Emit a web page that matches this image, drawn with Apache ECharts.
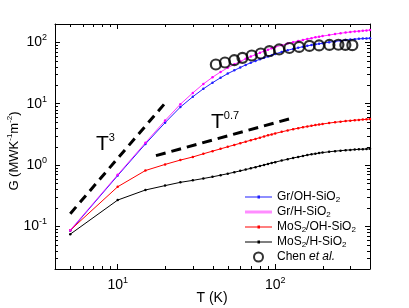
<!DOCTYPE html>
<html><head><meta charset="utf-8">
<script src="https://cdn.jsdelivr.net/npm/echarts@6/dist/echarts.min.js"></script>
<style>html,body{margin:0;padding:0;background:#fff}#c{width:409px;height:308px}</style>
</head><body><div id="c"></div>
<script>
// ---- data ----
const temps = [5,10,15,20,25,30,35,40,45,50,55,60,65,70,75,80,85,90,95,100,110,120,130,140,150,160,170,180,190,200,220,240,260,280,300,320,340,360,380,400];
const grOH = [0.084,0.67,2.2,4.9,8.8,13,17.5,22,26.5,31,35,39,43,46.5,50,53,56,59,62,65,70,74.5,78.5,82,85,88,90.5,93,95,97,101,104,107,109.5,111.5,113,114.5,115.5,116.5,117.5];
const grH = [0.086,0.69,2.3,5.3,9.8,15,21,27,33,38.5,44,49,54,59,63,68,72,76,80,84,90,96,101,106,110,114,117.5,121,124,127,132,137,141,145,148,151,153,155,157,159];
const mosOH = [0.086,0.44,0.81,1.02,1.2,1.35,1.52,1.68,1.83,1.98,2.12,2.26,2.4,2.53,2.66,2.79,2.92,3.04,3.15,3.27,3.47,3.66,3.83,3.98,4.12,4.25,4.36,4.47,4.57,4.66,4.83,4.97,5.09,5.2,5.29,5.37,5.44,5.5,5.55,5.6];
const mosH = [0.074,0.267,0.39,0.46,0.52,0.56,0.6,0.64,0.68,0.72,0.76,0.8,0.84,0.88,0.92,0.96,1.0,1.04,1.08,1.11,1.18,1.24,1.3,1.35,1.4,1.45,1.49,1.53,1.56,1.59,1.64,1.68,1.71,1.74,1.76,1.78,1.8,1.81,1.82,1.83];
const chenT = [42,48,55,62,71,81,92,106,123,142,165,190,221,252,279,309];
const chenG = [43.6,47,51.3,56.1,61.2,66,72,76.8,81.2,84.4,87.7,89.3,91,91.6,91,90.3];
const t3LineT = [5,20.5];
const t3LineG = [0.16,11];
const t07LineT = [17.5,131];
const t07LineG = [1.42,5.9];
const seriesNames = ['Gr/OH-SiO2','Gr/H-SiO2','MoS2/OH-SiO2','MoS2/H-SiO2','Chen et al.'];
const xRange = [4,400];
const yRange = [0.02,200];

// ---- helpers ----
const FF = 'Liberation Sans, Arial, sans-serif';
const zip = (a,b)=>a.map((v,i)=>[v,b[i]]);
function powLabel(v){
  const l = Math.log10(v), e = Math.round(l);
  if (Math.abs(l-e) > 1e-6) return '';
  return '{b|10}{p|' + e + '}';
}
const tickRich = {
  b:{fontSize:14, fontFamily:FF, color:'#000', lineHeight:18},
  p:{fontSize:9, fontFamily:FF, color:'#000', lineHeight:12, verticalAlign:'top'}
};
function minorTicks(lo, hi){
  const out=[];
  for(let d=Math.floor(Math.log10(lo)); d<=Math.ceil(Math.log10(hi)); d++){
    for(let k=2;k<=9;k++){const v=k*Math.pow(10,d); if(v>lo*1.0001 && v<hi*0.9999) out.push(v);}
  }
  return out;
}
const legendFmt = {
  'Gr/OH-SiO2':'{t|Gr/OH-SiO}{s|2}',
  'Gr/H-SiO2':'{t|Gr/H-SiO}{s|2}',
  'MoS2/OH-SiO2':'{t|MoS}{s|2}{t|/OH-SiO}{s|2}',
  'MoS2/H-SiO2':'{t|MoS}{s|2}{t|/H-SiO}{s|2}',
  'Chen et al.':'{t|Chen }{i|et al.}'
};
const colors = ['#1f1fff','#ff00ff','#ff0000','#000000'];
const curveData = [grOH, grH, mosOH, mosH];
const lineIcon = 'path://M0,4h27v1h-27z M12.5,3h2.5v3h-2.5z';
const bandIcon = 'path://M0,3h27v3h-27z';

const axisCommon = {
  type:'log', logBase:10,
  axisLine:{show:true, lineStyle:{color:'#000', width:1}},
  axisTick:{show:true, inside:true, length:5, lineStyle:{color:'#000'}},
  splitLine:{show:false}
};

const series = [];
curveData.forEach((d,i)=>{
  series.push({
    name: seriesNames[i], type:'line', data: zip(temps,d),
    symbol:'circle', symbolSize:2.5, showSymbol:true,
    lineStyle:{color:colors[i], width:1, opacity: i===1?0.8:1},
    itemStyle:{color:colors[i]}, z: i===1?4:3, animation:false
  });
});
series.push({
  name: seriesNames[4], type:'scatter', data: zip(chenT, chenG),
  symbol:'circle', symbolSize:10,
  itemStyle:{color:'rgba(0,0,0,0)', borderColor:'#000', borderWidth:2.2}, z:6
});
series.push({name:'T3', type:'line', data: zip(t3LineT,t3LineG), showSymbol:false, symbol:'none',
  lineStyle:{color:'#000', width:3, type:[9,6]}, z:5});
series.push({name:'T07', type:'line', data: zip(t07LineT,t07LineG), showSymbol:false, symbol:'none',
  lineStyle:{color:'#000', width:3, type:[10,6]}, z:5});
series.push({
  name:'minorX', type:'custom', silent:true, z:2,
  data: minorTicks(xRange[0],xRange[1]).map(v=>[v,1]),
  renderItem:(params, api)=>{
    const cs = params.coordSys; const x = Math.round(api.coord([api.value(0),1])[0])+0.5;
    const st = {stroke:'#000', lineWidth:1};
    return {type:'group', children:[
      {type:'line', shape:{x1:x,y1:cs.y+cs.height,x2:x,y2:cs.y+cs.height-3}, style:st},
      {type:'line', shape:{x1:x,y1:cs.y,x2:x,y2:cs.y+3}, style:st}
    ]};
  }
});
series.push({
  name:'minorY', type:'custom', silent:true, z:2,
  data: minorTicks(yRange[0],yRange[1]).map(v=>[10,v]),
  renderItem:(params, api)=>{
    const cs = params.coordSys; const y = Math.round(api.coord([10,api.value(1)])[1])+0.5;
    const st = {stroke:'#000', lineWidth:1};
    return {type:'group', children:[
      {type:'line', shape:{x1:cs.x,y1:y,x2:cs.x+3,y2:y}, style:st},
      {type:'line', shape:{x1:cs.x+cs.width,y1:y,x2:cs.x+cs.width-3,y2:y}, style:st}
    ]};
  }
});

const chart = echarts.init(document.getElementById('c'), null, {renderer:'canvas'});
chart.setOption({
  animation:false,
  backgroundColor:'#fff',
  grid:{left:55, top:24, width:315, height:245, containLabel:false},
  xAxis:[
    Object.assign({}, axisCommon, {position:'bottom', min:xRange[0], max:xRange[1],
      axisLabel:{formatter:powLabel, rich:tickRich, margin:7, showMinLabel:true, showMaxLabel:true}}),
    Object.assign({}, axisCommon, {position:'top', min:xRange[0], max:xRange[1], axisLabel:{show:false}})
  ],
  yAxis:[
    Object.assign({}, axisCommon, {position:'left', min:yRange[0], max:yRange[1],
      axisLabel:{formatter:powLabel, rich:tickRich, margin:8}}),
    Object.assign({}, axisCommon, {position:'right', min:yRange[0], max:yRange[1], axisLabel:{show:false}})
  ],
  legend:{
    orient:'vertical', left:240, top:186, itemWidth:27, itemHeight:9, itemGap:2,
    selectedMode:false,
    data:[
      {name:seriesNames[0], icon:lineIcon},
      {name:seriesNames[1], icon:bandIcon, itemStyle:{color:'#ff8cff'}},
      {name:seriesNames[2], icon:lineIcon},
      {name:seriesNames[3], icon:lineIcon},
      {name:seriesNames[4]}
    ],
    formatter:(n)=>legendFmt[n]||n,
    textStyle:{fontFamily:FF, fontSize:12, color:'#000', rich:{
      t:{fontSize:12, fontFamily:FF, color:'#000', lineHeight:14},
      i:{fontSize:12, fontFamily:FF, color:'#000', lineHeight:14, fontStyle:'italic'},
      s:{fontSize:8, fontFamily:FF, color:'#000', lineHeight:8, verticalAlign:'bottom'}
    }}
  },
  graphic:[
    {type:'text', x:14, y:151, rotation:Math.PI/2, style:{
      text:'{a|G (MWK}{s|-1}{a|m}{s|-2}{a|)}', align:'center', verticalAlign:'middle',
      rich:{a:{fontSize:13, fontFamily:FF, fill:'#000', lineHeight:17}, s:{fontSize:8, fontFamily:FF, fill:'#000', lineHeight:10, verticalAlign:'top'}}
    }},
    {type:'text', x:212, y:298, style:{text:'T (K)', align:'center', verticalAlign:'middle', font:'14px '+FF, fill:'#000'}},
    {type:'text', x:96, y:132, style:{
      text:'{a|T}{s|3}', align:'left', verticalAlign:'top',
      rich:{a:{fontSize:21, fontFamily:FF, fill:'#000', lineHeight:24}, s:{fontSize:11, fontFamily:FF, fill:'#000', lineHeight:14, verticalAlign:'top'}}
    }},
    {type:'text', x:211, y:110, style:{
      text:'{a|T}{s|0.7}', align:'left', verticalAlign:'top',
      rich:{a:{fontSize:21, fontFamily:FF, fill:'#000', lineHeight:24}, s:{fontSize:11, fontFamily:FF, fill:'#000', lineHeight:14, verticalAlign:'top'}}
    }}
  ],
  series: series
});
</script></body></html>
